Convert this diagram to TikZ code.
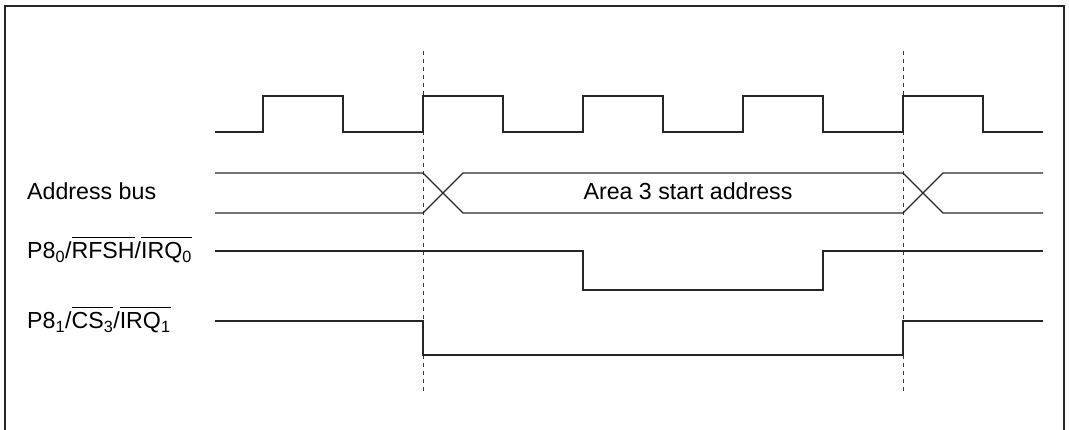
\documentclass[tikz,border=0pt]{standalone}
\usepackage{fontspec}
\setmainfont{Liberation Sans}
\usetikzlibrary{positioning}

\newcommand{\negsig}[1]{$\overline{\mbox{\rule{0pt}{0.86em}#1}}$}

\begin{document}
\begin{tikzpicture}[
  x=1pt,y=-1pt,
  wave/.style={line width=1.3pt,draw=black!85,line join=miter},
  guide/.style={line width=1pt,draw=black!80,dash pattern=on 4pt off 4pt},
  frame/.style={line width=2pt,draw=black!85},
  lbl/.style={inner sep=0pt,anchor=base west,font=\fontsize{23.2}{27}\selectfont}
]
\useasboundingbox (0,0) rectangle (1069,430);
\draw[frame] (5,432) -- (5,6) -- (1064,6) -- (1064,432);

% guides
\draw[guide] (423,51) -- (423,391);
\draw[guide] (903,51) -- (903,391);

% clock
\draw[wave] (215,132) -- (263,132) -- (263,96) -- (343,96) -- (343,132)
  -- (423,132) -- (423,96) -- (503,96) -- (503,132)
  -- (583,132) -- (583,96) -- (663,96) -- (663,132)
  -- (743,132) -- (743,96) -- (823,96) -- (823,132)
  -- (903,132) -- (903,96) -- (983,96) -- (983,132) -- (1043,132);

% address bus
\draw[wave] (215,173) -- (423,173) -- (463,213) -- (903,213) -- (943,173) -- (1043,173);
\draw[wave] (215,213) -- (423,213) -- (463,173) -- (903,173) -- (943,213) -- (1043,213);
\node[lbl,anchor=base] (area) at (688,200) {Area 3 start address};

% P8_0
\draw[wave] (215,251) -- (583,251) -- (583,290) -- (823,290) -- (823,251) -- (1043,251);

% P8_1
\draw[wave] (215,321) -- (423,321) -- (423,355) -- (903,355) -- (903,321) -- (1043,321);

% labels
\node[lbl] (addr) at (27,200) {Address bus};
\node[lbl] (p80) at (27,259) {P8\textsubscript{0}/\negsig{RFSH}/\negsig{IRQ\textsubscript{0}}};
\node[lbl] (p81) at (27,329) {P8\textsubscript{1}/\negsig{CS\textsubscript{3}}/\negsig{IRQ\textsubscript{1}}};
\end{tikzpicture}
\end{document}
